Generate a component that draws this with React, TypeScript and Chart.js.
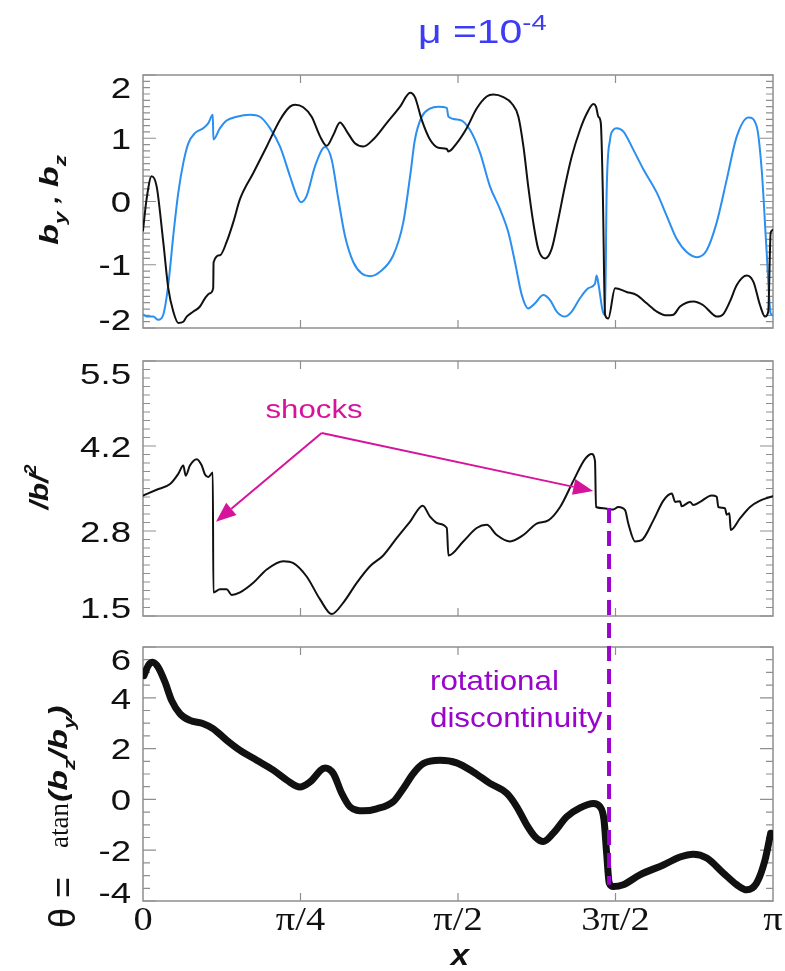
import React, { useEffect, useRef } from "react";
import { Chart, registerables } from "chart.js";

Chart.register(...registerables);

const PI = Math.PI;

// shared x axis (radians)
const X_TICKS = [0, PI / 4, PI / 2, (3 * PI) / 4, PI];
const X_TICK_LABELS = ["0", "π/4", "π/2", "3π/2", "π"];

// panel 1: b_y (black) and b_z (blue)
const BY: [number, number][] = [
  [0, -0.46], [0.018, 0.04], [0.043, 0.4], [0.068, 0.24], [0.101, -0.64], [0.126, -1.37],
  [0.151, -1.74], [0.176, -1.92], [0.201, -1.9], [0.218, -1.82], [0.251, -1.74], [0.284, -1.66],
  [0.309, -1.53], [0.334, -1.45], [0.35, -1.37], [0.352, -0.96], [0.384, -0.85], [0.417, -0.64],
  [0.45, -0.33], [0.484, 0.04], [0.55, 0.45], [0.617, 0.87], [0.683, 1.29], [0.733, 1.5],
  [0.758, 1.53], [0.799, 1.49], [0.841, 1.34], [0.883, 1.03], [0.916, 0.88], [0.949, 1.05],
  [0.982, 1.25], [1.016, 1.11], [1.057, 0.92], [1.099, 0.87], [1.148, 0.98], [1.215, 1.24],
  [1.282, 1.5], [1.332, 1.72], [1.356, 1.65], [1.39, 1.29], [1.431, 0.98], [1.473, 0.85],
  [1.515, 0.83], [1.523, 0.79], [1.564, 0.92], [1.614, 1.16], [1.664, 1.47], [1.714, 1.66],
  [1.747, 1.69], [1.797, 1.65], [1.839, 1.55], [1.872, 1.34], [1.897, 0.87], [1.921, 0.24],
  [1.946, -0.33], [1.971, -0.75], [2.005, -0.9], [2.038, -0.75], [2.071, -0.28], [2.104, 0.24],
  [2.138, 0.71], [2.179, 1.13], [2.213, 1.39], [2.246, 1.54], [2.259, 1.5], [2.271, 1.34],
  [2.283, 1.24], [2.293, 0.14], [2.304, -1.79], [2.32, -1.85], [2.354, -1.37], [2.412, -1.43],
  [2.462, -1.48], [2.512, -1.61], [2.562, -1.74], [2.612, -1.8], [2.645, -1.79], [2.678, -1.66],
  [2.744, -1.58], [2.794, -1.64], [2.844, -1.79], [2.861, -1.82], [2.894, -1.78], [2.927, -1.58],
  [2.961, -1.32], [3.011, -1.17], [3.044, -1.27], [3.077, -1.64], [3.102, -1.82], [3.118, -1.74],
  [3.13, -0.49], [3.1416, -0.45],
];

const BZ: [number, number][] = [
  [0, -1.79], [0.026, -1.82], [0.051, -1.82], [0.076, -1.87], [0.101, -1.79], [0.126, -1.32],
  [0.151, -0.54], [0.176, 0.14], [0.201, 0.61], [0.226, 0.92], [0.259, 1.08], [0.301, 1.16],
  [0.326, 1.24], [0.348, 1.37], [0.351, 0.98], [0.384, 1.16], [0.417, 1.28], [0.467, 1.34],
  [0.534, 1.37], [0.583, 1.34], [0.633, 1.16], [0.683, 0.87], [0.733, 0.4], [0.767, 0.09],
  [0.788, -0.01], [0.816, 0.09], [0.858, 0.56], [0.908, 0.86], [0.941, 0.66], [0.974, 0.04],
  [1.007, -0.54], [1.049, -0.96], [1.091, -1.14], [1.132, -1.18], [1.182, -1.11], [1.248, -0.85],
  [1.298, -0.33], [1.332, 0.4], [1.356, 0.98], [1.39, 1.34], [1.431, 1.47], [1.473, 1.5],
  [1.515, 1.48], [1.523, 1.34], [1.581, 1.29], [1.631, 1.13], [1.681, 0.77], [1.73, 0.24],
  [1.78, -0.12], [1.822, -0.49], [1.855, -0.96], [1.889, -1.48], [1.921, -1.69], [1.955, -1.61],
  [1.996, -1.48], [2.03, -1.56], [2.063, -1.74], [2.104, -1.82], [2.138, -1.74], [2.179, -1.53],
  [2.221, -1.37], [2.254, -1.3], [2.262, -1.17], [2.271, -1.3], [2.293, -1.74], [2.304, -1.79],
  [2.312, 0.14], [2.329, 0.98], [2.345, 1.13], [2.362, 1.16], [2.395, 1.11], [2.445, 0.82],
  [2.495, 0.51], [2.562, 0.14], [2.612, -0.23], [2.661, -0.59], [2.711, -0.8], [2.761, -0.88],
  [2.811, -0.77], [2.861, -0.33], [2.911, 0.35], [2.961, 1.03], [3.019, 1.33], [3.06, 1.19],
  [3.085, 0.51], [3.11, -0.8], [3.13, -1.77], [3.1416, -1.8],
];

// panel 2: |b|^2
const B2: [number, number][] = [
  [0, 3.39], [0.068, 3.48], [0.135, 3.57], [0.176, 3.73], [0.201, 3.86], [0.213, 3.7],
  [0.234, 3.86], [0.268, 3.96], [0.293, 3.86], [0.309, 3.72], [0.326, 3.68], [0.348, 3.75],
  [0.351, 1.87], [0.384, 1.92], [0.417, 1.92], [0.442, 1.83], [0.484, 1.87], [0.55, 2.02],
  [0.617, 2.23], [0.7, 2.36], [0.75, 2.33], [0.816, 2.12], [0.883, 1.76], [0.941, 1.53],
  [0.999, 1.71], [1.066, 2.02], [1.132, 2.28], [1.198, 2.45], [1.265, 2.72], [1.332, 2.98],
  [1.395, 3.23], [1.431, 3.06], [1.473, 2.95], [1.515, 2.88], [1.523, 2.45], [1.597, 2.67],
  [1.664, 2.88], [1.714, 2.93], [1.764, 2.77], [1.83, 2.67], [1.897, 2.77], [1.963, 2.95],
  [2.021, 3.0], [2.08, 3.21], [2.146, 3.62], [2.204, 3.96], [2.238, 4.04], [2.254, 3.93],
  [2.259, 3.21], [2.296, 3.19], [2.345, 3.17], [2.37, 3.21], [2.404, 3.16], [2.42, 2.95],
  [2.454, 2.67], [2.487, 2.69], [2.545, 3.0], [2.595, 3.31], [2.637, 3.42], [2.654, 3.29],
  [2.678, 3.3], [2.686, 3.22], [2.728, 3.29], [2.744, 3.24], [2.778, 3.29], [2.836, 3.39],
  [2.861, 3.37], [2.869, 3.21], [2.902, 3.19], [2.911, 3.09], [2.924, 3.11], [2.931, 2.85],
  [2.977, 3.03], [3.027, 3.21], [3.077, 3.31], [3.1416, 3.38],
];

// panel 3: theta = atan(b_z / b_y)
const THETA: [number, number][] = [
  [0.005, 4.87], [0.026, 5.27], [0.048, 5.4], [0.076, 5.2], [0.11, 4.61], [0.143, 3.89],
  [0.185, 3.37], [0.234, 3.11], [0.301, 2.98], [0.351, 2.78], [0.417, 2.33], [0.484, 1.93],
  [0.567, 1.54], [0.65, 1.15], [0.717, 0.76], [0.783, 0.49], [0.833, 0.69], [0.908, 1.24],
  [0.949, 1.02], [0.991, 0.24], [1.032, -0.29], [1.099, -0.45], [1.165, -0.37], [1.248, -0.09],
  [1.298, 0.43], [1.348, 1.02], [1.398, 1.41], [1.481, 1.54], [1.564, 1.44], [1.647, 1.08],
  [1.73, 0.63], [1.814, 0.24], [1.864, -0.29], [1.914, -1.01], [1.955, -1.47], [1.996, -1.66],
  [2.046, -1.33], [2.113, -0.68], [2.179, -0.33], [2.246, -0.16], [2.279, -0.29], [2.299, -0.81],
  [2.312, -2.12], [2.325, -3.29], [2.345, -3.43], [2.395, -3.36], [2.478, -2.97], [2.595, -2.58],
  [2.678, -2.27], [2.744, -2.16], [2.811, -2.31], [2.894, -2.9], [2.961, -3.36], [3.011, -3.56],
  [3.06, -3.29], [3.102, -2.38], [3.13, -1.33],
];

// y ticks per panel
const Y1_TICKS = [-2, -1, 0, 1, 2];
const Y1_LABELS = ["-2", "-1", "0", "1", "2"];
const Y2_TICKS = [1.5, 2.8333, 4.1667, 5.5];
const Y2_LABELS = ["1.5", "2.8", "4.2", "5.5"];
const Y3_TICKS = [-4, -2, 0, 2, 4, 6];
const Y3_LABELS = ["-4", "-2", "0", "2", "4", "6"];

// annotations (data coordinates)
const SHOCK_TEXT_AT = { x: 0.853, y: 4.6 };
const SHOCK_FROM = { x: 0.891, y: 4.37 };
const SHOCK_TARGETS = [
  { x: 0.364, y: 2.98 },
  { x: 2.245, y: 3.46 },
];
const RD_X = 2.324;
const RD_Y_MID = 3.195;
const RD_Y_BOT = -3.36;
const RD_TEXT_X = 1.431;
const RD_TEXT_Y = [4.31, 2.87];

const W = 785;
const H = 971;
const LEFT = 143;
const RIGHT = 773;

const SANS = '"Liberation Sans", Arial, Helvetica, sans-serif';
const SERIF = '"Liberation Serif", "Times New Roman", serif';
const AXIS_COLOR = "#8f8f8f";
const INK = "#111111";
const BLUE = "#2b8ff0";
const MAGENTA = "#d5149b";
const PURPLE = "#9a05cc";
const TITLE_BLUE = "#3c3cf6";

type Run = { t: string; font: string; dy?: number; dx?: number };

function drawRuns(
  ctx: CanvasRenderingContext2D,
  runs: Run[],
  x: number,
  y: number,
  rot: number,
  sx: number,
  align: "left" | "center" | "right",
  color: string
) {
  ctx.save();
  ctx.translate(x, y);
  if (rot) ctx.rotate(rot);
  ctx.scale(sx, 1);
  ctx.fillStyle = color;
  ctx.textBaseline = "alphabetic";
  ctx.textAlign = "left";
  let total = 0;
  for (const r of runs) {
    ctx.font = r.font;
    total += ctx.measureText(r.t).width + (r.dx || 0);
  }
  let cx = align === "center" ? -total / 2 : align === "right" ? -total : 0;
  for (const r of runs) {
    ctx.font = r.font;
    cx += r.dx || 0;
    ctx.fillText(r.t, cx, r.dy || 0);
    cx += ctx.measureText(r.t).width;
  }
  ctx.restore();
}

type AxisSpec = {
  yTicks: number[];
  yLabels: string[];
  yMinor: number;
  xLabels: boolean;
};

function axesPlugin(spec: AxisSpec) {
  return {
    id: "panelAxes",
    beforeDatasetsDraw(chart: any) {
      const { ctx, chartArea: a } = chart;
      const xs = chart.scales.x;
      const ys = chart.scales.y;
      ctx.save();
      ctx.strokeStyle = AXIS_COLOR;
      ctx.lineWidth = 1.2;
      ctx.beginPath();
      const n = Math.round((ys.max - ys.min) / spec.yMinor);
      for (let i = 1; i < n; i++) {
        const py = ys.getPixelForValue(ys.min + i * spec.yMinor);
        ctx.moveTo(a.left, py);
        ctx.lineTo(a.left + 7, py);
        ctx.moveTo(a.right, py);
        ctx.lineTo(a.right - 7, py);
      }
      for (const v of spec.yTicks) {
        const py = ys.getPixelForValue(v);
        ctx.moveTo(a.left, py);
        ctx.lineTo(a.left + 13, py);
        ctx.moveTo(a.right, py);
        ctx.lineTo(a.right - 13, py);
      }
      for (const v of X_TICKS.slice(1, -1)) {
        const px = xs.getPixelForValue(v);
        ctx.moveTo(px, a.top);
        ctx.lineTo(px, a.top + 8);
        ctx.moveTo(px, a.bottom);
        ctx.lineTo(px, a.bottom - 8);
      }
      ctx.stroke();
      ctx.lineWidth = 1.5;
      ctx.strokeRect(a.left, a.top, a.right - a.left, a.bottom - a.top);
      ctx.restore();
    },
    afterDraw(chart: any) {
      const { ctx, chartArea: a } = chart;
      const xs = chart.scales.x;
      const ys = chart.scales.y;
      const size = 30;
      const half = size * 0.358;
      spec.yTicks.forEach((v, i) => {
        let py = ys.getPixelForValue(v);
        py = Math.min(Math.max(py, a.top + 12), a.bottom - 9);
        drawRuns(ctx, [{ t: spec.yLabels[i], font: `${size}px ${SANS}` }], a.left - 12, py + half, 0, 1.22, "right", INK);
      });
      if (spec.xLabels) {
        X_TICKS.forEach((v, i) => {
          const px = xs.getPixelForValue(v);
          drawRuns(ctx, [{ t: X_TICK_LABELS[i], font: `34px ${SERIF}` }], px, 930, 0, 1.13, "center", INK);
        });
      }
    },
  };
}

function lineSet(points: [number, number][], color: string, width: number) {
  return {
    data: points.map(([x, y]) => ({ x, y })),
    borderColor: color,
    borderWidth: width,
    pointRadius: 0,
    fill: false,
    cubicInterpolationMode: "monotone" as const,
    borderCapStyle: "round" as const,
    borderJoinStyle: "round" as const,
    clip: 0,
  };
}

function makeChart(
  canvas: HTMLCanvasElement,
  datasets: any[],
  yMin: number,
  yMax: number,
  top: number,
  bottom: number,
  plugins: any[]
) {
  return new Chart(canvas, {
    type: "line",
    data: { datasets },
    options: {
      animation: false,
      responsive: false,
      devicePixelRatio: 1,
      events: [],
      layout: { padding: { left: LEFT, right: W - RIGHT, top, bottom: H - bottom } },
      plugins: { legend: { display: false }, tooltip: { enabled: false }, title: { display: false } },
      scales: {
        x: { type: "linear", min: 0, max: PI, display: false },
        y: { type: "linear", min: yMin, max: yMax, display: false },
      },
    },
    plugins,
  } as any);
}

function arrow(ctx: CanvasRenderingContext2D, x0: number, y0: number, x1: number, y1: number) {
  const ang = Math.atan2(y1 - y0, x1 - x0);
  const len = 20;
  const hw = 8;
  const bx = x1 - len * Math.cos(ang);
  const by = y1 - len * Math.sin(ang);
  ctx.beginPath();
  ctx.moveTo(x0, y0);
  ctx.lineTo(bx, by);
  ctx.stroke();
  ctx.beginPath();
  ctx.moveTo(x1, y1);
  ctx.lineTo(bx + hw * Math.sin(ang), by - hw * Math.cos(ang));
  ctx.lineTo(bx - hw * Math.sin(ang), by + hw * Math.cos(ang));
  ctx.closePath();
  ctx.fill();
}

export default function App() {
  const c1 = useRef<HTMLCanvasElement>(null);
  const c2 = useRef<HTMLCanvasElement>(null);
  const c3 = useRef<HTMLCanvasElement>(null);

  useEffect(() => {
    const BI = (s: number) => `italic bold ${s}px ${SANS}`;

    const topTitle = {
      id: "topTitle",
      afterDraw(chart: any) {
        const ctx = chart.ctx;
        drawRuns(
          ctx,
          [
            { t: "μ =10", font: `33px ${SANS}` },
            { t: "-4", font: `22px ${SANS}`, dy: -13 },
          ],
          418, 43, 0, 1.24, "left", TITLE_BLUE
        );
        drawRuns(
          ctx,
          [
            { t: "b", font: BI(26) },
            { t: "y", font: BI(17), dy: 8 },
            { t: " , ", font: BI(22) },
            { t: "b", font: BI(26) },
            { t: "z", font: BI(17), dy: 8 },
          ],
          58, 200, -PI / 2, 1.32, "center", INK
        );
      },
    };

    const midTitle = {
      id: "midTitle",
      afterDraw(chart: any) {
        drawRuns(
          chart.ctx,
          [
            { t: "/b/", font: BI(26) },
            { t: "2", font: BI(16), dy: -12 },
          ],
          48, 487, -PI / 2, 1.15, "center", INK
        );
      },
    };

    const top = makeChart(
      c1.current!,
      [lineSet(BY, INK, 2), lineSet(BZ, BLUE, 2)],
      -2, 2, 75, 328,
      [axesPlugin({ yTicks: Y1_TICKS, yLabels: Y1_LABELS, yMinor: 0.1, xLabels: false }), topTitle]
    );
    const mid = makeChart(
      c2.current!,
      [lineSet(B2, INK, 2)],
      1.5, 5.5, 361, 616,
      [axesPlugin({ yTicks: Y2_TICKS, yLabels: Y2_LABELS, yMinor: 4 / 30, xLabels: false }), midTitle]
    );

    const bottomExtras = {
      id: "bottomExtras",
      afterDraw(chart: any) {
        const ctx: CanvasRenderingContext2D = chart.ctx;
        // theta axis title
        drawRuns(ctx, [{ t: "θ =", font: `36px ${SANS}` }], 75, 928, -PI / 2, 1, "left", INK);
        drawRuns(ctx, [{ t: "atan", font: `27px ${SERIF}` }], 68, 848, -PI / 2, 1, "left", INK);
        drawRuns(
          ctx,
          [
            { t: "(", font: BI(26) },
            { t: "b", font: BI(26) },
            { t: "z", font: BI(17), dy: 8 },
            { t: "/", font: BI(26) },
            { t: "b", font: BI(26) },
            { t: "y", font: BI(17), dy: 8 },
            { t: ")", font: BI(26) },
          ],
          67, 802, -PI / 2, 1.3, "left", INK
        );
        // x axis title
        drawRuns(ctx, [{ t: "x", font: BI(30) }], 460, 965, 0, 1.1, "center", INK);

        const mx = mid.scales.x;
        const my = mid.scales.y;
        const bx = chart.scales.x;
        const by = chart.scales.y;

        // rotational discontinuity marker
        ctx.save();
        ctx.strokeStyle = PURPLE;
        ctx.lineWidth = 4;
        ctx.setLineDash([15, 8]);
        ctx.beginPath();
        ctx.moveTo(mx.getPixelForValue(RD_X), my.getPixelForValue(RD_Y_MID));
        ctx.lineTo(bx.getPixelForValue(RD_X), by.getPixelForValue(RD_Y_BOT));
        ctx.stroke();
        ctx.restore();
        drawRuns(ctx, [{ t: "rotational", font: `28px ${SANS}` }], bx.getPixelForValue(RD_TEXT_X), by.getPixelForValue(RD_TEXT_Y[0]), 0, 1.12, "left", PURPLE);
        drawRuns(ctx, [{ t: "discontinuity", font: `28px ${SANS}` }], bx.getPixelForValue(RD_TEXT_X), by.getPixelForValue(RD_TEXT_Y[1]), 0, 1.12, "left", PURPLE);

        // shocks label and arrows
        drawRuns(ctx, [{ t: "shocks", font: `26px ${SANS}` }], mx.getPixelForValue(SHOCK_TEXT_AT.x), my.getPixelForValue(SHOCK_TEXT_AT.y), 0, 1.2, "center", MAGENTA);
        ctx.save();
        ctx.strokeStyle = MAGENTA;
        ctx.fillStyle = MAGENTA;
        ctx.lineWidth = 2;
        const fx = mx.getPixelForValue(SHOCK_FROM.x);
        const fy = my.getPixelForValue(SHOCK_FROM.y);
        for (const t of SHOCK_TARGETS) {
          arrow(ctx, fx, fy, mx.getPixelForValue(t.x), my.getPixelForValue(t.y));
        }
        ctx.restore();
      },
    };

    const bot = makeChart(
      c3.current!,
      [lineSet(THETA, INK, 7)],
      -4, 6, 647, 901,
      [axesPlugin({ yTicks: Y3_TICKS, yLabels: Y3_LABELS, yMinor: 0.5, xLabels: true }), bottomExtras]
    );

    return () => {
      bot.destroy();
      mid.destroy();
      top.destroy();
    };
  }, []);

  const layer: React.CSSProperties = { position: "absolute", left: 0, top: 0, width: W, height: H };
  return (
    <div style={{ position: "absolute", left: 0, top: 0, width: W, height: H, background: "#ffffff" }}>
      <canvas ref={c1} width={W} height={H} style={layer} />
      <canvas ref={c2} width={W} height={H} style={layer} />
      <canvas ref={c3} width={W} height={H} style={layer} />
    </div>
  );
}
